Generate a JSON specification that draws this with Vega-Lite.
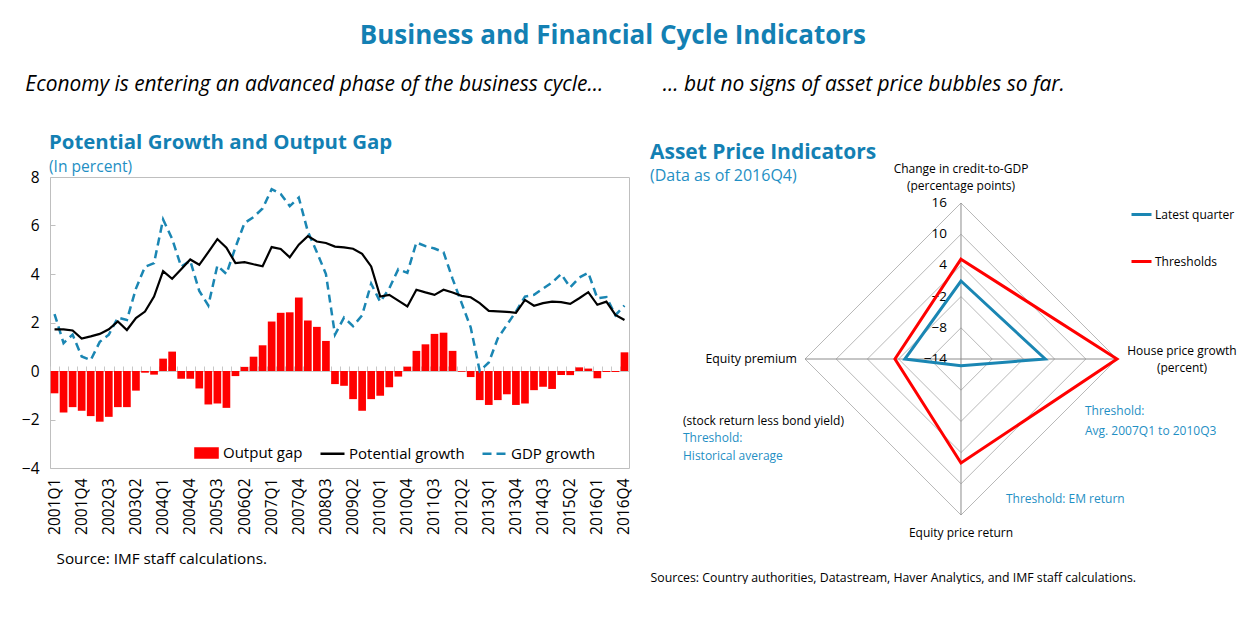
{
  "$schema": "https://vega.github.io/schema/vega-lite/v6.json",
  "background": "white",
  "padding": {"left": 20, "top": 22, "right": 0, "bottom": 0},
  "config": {
    "font": "Open Sans",
    "view": {"stroke": null},
    "axis": {"labelColor": "#000", "labelFont": "Open Sans", "titleFont": "Open Sans", "titleColor": "#000"},
    "legend": {"labelFont": "Open Sans", "labelColor": "#000"},
    "title": {"font": "Open Sans", "subtitleFont": "Open Sans"},
    "text": {"font": "Open Sans"}
  },
  "title": {
    "text": "Business and Financial Cycle Indicators",
    "subtitle": "Economy is entering an advanced phase of the business cycle...\u00a0\u00a0\u00a0\u00a0\u00a0\u00a0\u00a0\u00a0\u00a0\u00a0\u00a0... but no signs of asset price bubbles so far.\u00a0\u00a0\u00a0\u00a0\u00a0\u00a0\u00a0\u00a0\u00a0\u00a0\u00a0\u00a0\u00a0\u00a0\u00a0\u00a0\u00a0\u00a0\u00a0\u00a0\u00a0\u00a0\u00a0\u00a0\u00a0\u200b",
    "anchor": "middle",
    "dx": -20,
    "fontSize": 26,
    "fontWeight": "bold",
    "color": "#1380b3",
    "subtitleFontSize": 20.9,
    "subtitleFontStyle": "italic",
    "subtitleColor": "#000",
    "subtitlePadding": 25,
    "offset": 38
  },
  "datasets": {
    "trend": [
      {"q": "2001Q1", "gap": -0.92, "pot": 1.72, "gdp": 2.35},
      {"q": "2001Q2", "gap": -1.71, "pot": 1.72, "gdp": 1.15},
      {"q": "2001Q3", "gap": -1.49, "pot": 1.67, "gdp": 1.5},
      {"q": "2001Q4", "gap": -1.64, "pot": 1.34, "gdp": 0.6},
      {"q": "2002Q1", "gap": -1.86, "pot": 1.43, "gdp": 0.45},
      {"q": "2002Q2", "gap": -2.09, "pot": 1.53, "gdp": 1.2},
      {"q": "2002Q3", "gap": -1.89, "pot": 1.72, "gdp": 1.5},
      {"q": "2002Q4", "gap": -1.49, "pot": 2.04, "gdp": 2.2},
      {"q": "2003Q1", "gap": -1.49, "pot": 1.69, "gdp": 2.1},
      {"q": "2003Q2", "gap": -0.81, "pot": 2.18, "gdp": 3.4},
      {"q": "2003Q3", "gap": -0.07, "pot": 2.45, "gdp": 4.3},
      {"q": "2003Q4", "gap": -0.15, "pot": 3.07, "gdp": 4.45},
      {"q": "2004Q1", "gap": 0.51, "pot": 4.12, "gdp": 6.25},
      {"q": "2004Q2", "gap": 0.8, "pot": 3.8, "gdp": 5.45},
      {"q": "2004Q3", "gap": -0.32, "pot": 4.2, "gdp": 4.3},
      {"q": "2004Q4", "gap": -0.32, "pot": 4.6, "gdp": 4.55},
      {"q": "2005Q1", "gap": -0.72, "pot": 4.38, "gdp": 3.3},
      {"q": "2005Q2", "gap": -1.38, "pot": 4.9, "gdp": 2.7},
      {"q": "2005Q3", "gap": -1.34, "pot": 5.44, "gdp": 4.35},
      {"q": "2005Q4", "gap": -1.52, "pot": 5.08, "gdp": 4.0},
      {"q": "2006Q1", "gap": -0.21, "pot": 4.45, "gdp": 5.1},
      {"q": "2006Q2", "gap": 0.17, "pot": 4.49, "gdp": 6.1},
      {"q": "2006Q3", "gap": 0.59, "pot": 4.4, "gdp": 6.35},
      {"q": "2006Q4", "gap": 1.06, "pot": 4.32, "gdp": 6.7},
      {"q": "2007Q1", "gap": 2.04, "pot": 5.11, "gdp": 7.5},
      {"q": "2007Q2", "gap": 2.4, "pot": 5.03, "gdp": 7.3},
      {"q": "2007Q3", "gap": 2.42, "pot": 4.69, "gdp": 6.8},
      {"q": "2007Q4", "gap": 3.03, "pot": 5.21, "gdp": 7.15},
      {"q": "2008Q1", "gap": 2.08, "pot": 5.56, "gdp": 5.75},
      {"q": "2008Q2", "gap": 1.82, "pot": 5.34, "gdp": 4.9},
      {"q": "2008Q3", "gap": 1.24, "pot": 5.28, "gdp": 4.0},
      {"q": "2008Q4", "gap": -0.54, "pot": 5.13, "gdp": 1.5},
      {"q": "2009Q1", "gap": -0.61, "pot": 5.1, "gdp": 2.2},
      {"q": "2009Q2", "gap": -1.16, "pot": 5.04, "gdp": 1.85},
      {"q": "2009Q3", "gap": -1.64, "pot": 4.83, "gdp": 2.3},
      {"q": "2009Q4", "gap": -1.16, "pot": 4.31, "gdp": 3.6},
      {"q": "2010Q1", "gap": -1.02, "pot": 3.07, "gdp": 2.85},
      {"q": "2010Q2", "gap": -0.67, "pot": 3.14, "gdp": 3.4},
      {"q": "2010Q3", "gap": -0.23, "pot": 2.9, "gdp": 4.2},
      {"q": "2010Q4", "gap": 0.18, "pot": 2.66, "gdp": 4.05},
      {"q": "2011Q1", "gap": 0.83, "pot": 3.35, "gdp": 5.3},
      {"q": "2011Q2", "gap": 1.1, "pot": 3.24, "gdp": 5.15},
      {"q": "2011Q3", "gap": 1.53, "pot": 3.14, "gdp": 5.05},
      {"q": "2011Q4", "gap": 1.58, "pot": 3.35, "gdp": 4.9},
      {"q": "2012Q1", "gap": 0.83, "pot": 3.24, "gdp": 3.8},
      {"q": "2012Q2", "gap": -0.03, "pot": 3.1, "gdp": 2.8},
      {"q": "2012Q3", "gap": -0.25, "pot": 3.04, "gdp": 1.8},
      {"q": "2012Q4", "gap": -1.2, "pot": 2.8, "gdp": 0.0},
      {"q": "2013Q1", "gap": -1.4, "pot": 2.48, "gdp": 0.35},
      {"q": "2013Q2", "gap": -1.2, "pot": 2.46, "gdp": 1.35},
      {"q": "2013Q3", "gap": -0.96, "pot": 2.44, "gdp": 1.9},
      {"q": "2013Q4", "gap": -1.4, "pot": 2.4, "gdp": 2.45},
      {"q": "2014Q1", "gap": -1.34, "pot": 2.93, "gdp": 3.07},
      {"q": "2014Q2", "gap": -0.79, "pot": 2.69, "gdp": 3.14},
      {"q": "2014Q3", "gap": -0.65, "pot": 2.8, "gdp": 3.4},
      {"q": "2014Q4", "gap": -0.74, "pot": 2.86, "gdp": 3.65},
      {"q": "2015Q1", "gap": -0.17, "pot": 2.84, "gdp": 4.0},
      {"q": "2015Q2", "gap": -0.17, "pot": 2.77, "gdp": 3.45},
      {"q": "2015Q3", "gap": 0.15, "pot": 3.0, "gdp": 3.85},
      {"q": "2015Q4", "gap": 0.1, "pot": 3.25, "gdp": 4.05},
      {"q": "2016Q1", "gap": -0.3, "pot": 2.73, "gdp": 3.0},
      {"q": "2016Q2", "gap": -0.04, "pot": 2.86, "gdp": 3.05},
      {"q": "2016Q3", "gap": -0.04, "pot": 2.31, "gdp": 2.3},
      {"q": "2016Q4", "gap": 0.77, "pot": 2.1, "gdp": 2.7}
    ],
    "radar": [
      {"series": "Latest quarter", "k": 0, "value": 1.0},
      {"series": "Latest quarter", "k": 1, "value": 2.2},
      {"series": "Latest quarter", "k": 2, "value": -12.7},
      {"series": "Latest quarter", "k": 3, "value": -3.2},
      {"series": "Thresholds", "k": 0, "value": 5.2},
      {"series": "Thresholds", "k": 1, "value": 16.0},
      {"series": "Thresholds", "k": 2, "value": 6.0},
      {"series": "Thresholds", "k": 3, "value": -1.3}
    ],
    "rings": [
      {"level": -8, "k": 0}, {"level": -8, "k": 1}, {"level": -8, "k": 2}, {"level": -8, "k": 3},
      {"level": -2, "k": 0}, {"level": -2, "k": 1}, {"level": -2, "k": 2}, {"level": -2, "k": 3},
      {"level": 4, "k": 0}, {"level": 4, "k": 1}, {"level": 4, "k": 2}, {"level": 4, "k": 3},
      {"level": 10, "k": 0}, {"level": 10, "k": 1}, {"level": 10, "k": 2}, {"level": 10, "k": 3},
      {"level": 16, "k": 0}, {"level": 16, "k": 1}, {"level": 16, "k": 2}, {"level": 16, "k": 3}
    ],
    "ringLabels": [{"level": 16}, {"level": 10}, {"level": 4}, {"level": -2}, {"level": -8}, {"level": -14}],
    "spokes": [
      {"k": 0, "label": "Change in credit-to-GDP\n(percentage points)"},
      {"k": 1, "label": "House price growth\n(percent)"},
      {"k": 2, "label": "Equity price return"},
      {"k": 3, "label": "Equity premium"}
    ],
    "notes": [
      {"k": 3, "kind": "desc", "note": "(stock return less bond yield)"},
      {"k": 3, "kind": "threshold", "note": "Threshold:\nHistorical average"},
      {"k": 1, "kind": "threshold", "note": "Threshold:\nAvg. 2007Q1  to 2010Q3"},
      {"k": 2, "kind": "threshold", "note": "Threshold: EM return"}
    ]
  },
  "hconcat": [
    {
      "width": 579,
      "height": 291,
      "view": {"stroke": "#bfbfbf"},
      "title": {
        "text": "Potential Growth and Output Gap",
        "subtitle": "(In percent)",
        "anchor": "start",
        "frame": "group",
        "dx": -1,
        "offset": -6,
        "fontSize": 20.4,
        "fontWeight": "bold",
        "color": "#1380b3",
        "subtitleFontSize": 15.6,
        "subtitleColor": "#1f8fc4",
        "subtitlePadding": 7
      },
      "data": {"name": "trend"},
      "layer": [
        {
          "mark": {"type": "bar"},
          "encoding": {
            "x": {
              "field": "q", "type": "ordinal", "sort": null,
              "scale": {"paddingInner": 0.15, "paddingOuter": 0.075},
              "axis": {
                "values": ["2001Q1","2001Q4","2002Q3","2003Q2","2004Q1","2004Q4","2005Q3","2006Q2","2007Q1","2007Q4","2008Q3","2009Q2","2010Q1","2010Q4","2011Q3","2012Q2","2013Q1","2013Q4","2014Q3","2015Q2","2016Q1","2016Q4"],
                "labelAngle": -90, "labelFontSize": 15.5, "labelPadding": 10,
                "ticks": false, "domain": false, "grid": false,
                "title": "Source: IMF staff calculations.",
                "titleFontSize": 15.3, "titleFontWeight": "normal",
                "titleAnchor": "start", "titleAlign": "left", "titleX": 6,
                "titlePadding": 17, "titleBaseline": "top"
              }
            },
            "y": {
              "field": "gap", "type": "quantitative",
              "scale": {"domain": [-4, 8], "nice": false},
              "axis": {"values": [-4, -2, 0, 2, 4, 6, 8], "title": null, "grid": false, "domain": false, "tickSize": -5, "tickColor": "#bfbfbf", "labelPadding": 16, "labelFontSize": 15.5}
            },
            "color": {
              "datum": "Output gap",
              "scale": {"domain": ["Output gap", "Potential growth", "GDP growth"], "range": ["#ff0000", "#000000", "#1a86b3"]},
              "legend": {
                "orient": "none", "legendX": 143, "legendY": 262,
                "direction": "horizontal", "title": null,
                "labelFontSize": 15, "symbolType": "stroke", "symbolSize": 576,
                "symbolStrokeWidth": 2.5, "columnPadding": 12, "labelOffset": 3,
                "encode": {
                  "symbols": {
                    "update": {
                      "shape": {"signal": "datum.value === 'Output gap' ? 'M-0.92,-0.38H0.92V0.38H-0.92Z' : 'stroke'"},
                      "fill": {"signal": "datum.value === 'Output gap' ? '#ff0000' : 'transparent'"},
                      "stroke": {"signal": "datum.value === 'Output gap' ? 'transparent' : (datum.value === 'Potential growth' ? '#000000' : '#1a86b3')"},
                      "strokeDash": {"signal": "datum.value === 'GDP growth' ? [9, 5] : [1, 0]"},
                      "strokeWidth": {"value": 2.5},
                      "opacity": {"value": 1}
                    }
                  }
                }
              }
            }
          }
        },
        {
          "mark": {"type": "line", "strokeDash": [8, 5], "strokeWidth": 2.5},
          "encoding": {
            "x": {
              "field": "q", "type": "ordinal", "sort": null,
              "axis": {"orient": "top", "offset": -194, "labels": false, "title": null, "grid": false, "tickSize": 5, "tickColor": "#c8c8c8", "domainColor": "#c8c8c8", "bandPosition": 0}
            },
            "y": {"field": "gdp", "type": "quantitative"},
            "color": {"datum": "GDP growth"}
          }
        },
        {
          "mark": {"type": "line", "strokeWidth": 2.2},
          "encoding": {
            "x": {"field": "q", "type": "ordinal", "sort": null, "axis": null},
            "y": {"field": "pot", "type": "quantitative"},
            "color": {"datum": "Potential growth"}
          }
        }
      ],
      "resolve": {"axis": {"x": "independent"}}
    },
    {
      "width": 595,
      "height": 391,
      "title": {
        "text": "Asset Price Indicators",
        "subtitle": "(Data as of 2016Q4)",
        "anchor": "start",
        "frame": "group",
        "offset": -20.5,
        "fontSize": 21,
        "fontWeight": "bold",
        "color": "#1380b3",
        "subtitleFontSize": 16,
        "subtitleColor": "#1f8fc4",
        "subtitlePadding": 5
      },
      "encoding": {
        "x": {
          "field": "px", "type": "quantitative",
          "scale": {"domain": [-59.81, 54.62], "nice": false, "zero": false},
          "axis": {"title": "Sources: Country authorities, Datastream, Haver Analytics, and IMF staff calculations.", "labels": false, "ticks": false, "domain": false, "grid": false, "titleAnchor": "start", "titleAlign": "left", "titleFontSize": 12.3, "titleFontWeight": "normal", "titlePadding": 3, "titleBaseline": "top"}
        },
        "y": {
          "field": "py", "type": "quantitative",
          "scale": {"domain": [-40.19, 35], "nice": false, "zero": false},
          "axis": null
        }
      },
      "layer": [
        {
          "data": {"name": "rings"},
          "transform": [
            {"calculate": "(datum.level + 14) * sin(datum.k * PI / 2)", "as": "px"},
            {"calculate": "(datum.level + 14) * cos(datum.k * PI / 2)", "as": "py"}
          ],
          "mark": {"type": "line", "interpolate": "linear-closed", "stroke": "#b8b8b8", "strokeWidth": 1},
          "encoding": {"detail": {"field": "level", "type": "nominal"}, "order": {"field": "k", "type": "quantitative"}}
        },
        {
          "data": {"name": "spokes"},
          "transform": [
            {"calculate": "30 * sin(datum.k * PI / 2)", "as": "px"},
            {"calculate": "30 * cos(datum.k * PI / 2)", "as": "py"}
          ],
          "mark": {"type": "rule", "stroke": "#8c8c8c", "strokeWidth": 1},
          "encoding": {"x2": {"datum": 0}, "y2": {"datum": 0}}
        },
        {
          "data": {"name": "ringLabels"},
          "transform": [
            {"calculate": "0", "as": "px"},
            {"calculate": "datum.level + 14", "as": "py"}
          ],
          "mark": {"type": "text", "align": "right", "baseline": "middle", "dx": -14, "fontSize": 13.5, "color": "#000"},
          "encoding": {"text": {"field": "level", "type": "quantitative"}}
        },
        {
          "data": {"name": "radar"},
          "transform": [
            {"calculate": "(datum.value + 14) * sin(datum.k * PI / 2)", "as": "px"},
            {"calculate": "(datum.value + 14) * cos(datum.k * PI / 2)", "as": "py"}
          ],
          "mark": {"type": "line", "interpolate": "linear-closed", "strokeWidth": 3},
          "encoding": {
            "color": {
              "field": "series", "type": "nominal",
              "scale": {"domain": ["Latest quarter", "Thresholds"], "range": ["#1a86b3", "#ff0000"]},
              "legend": {"orient": "none", "legendX": 480, "legendY": 26, "title": null, "symbolType": "stroke", "symbolSize": 400, "symbolStrokeWidth": 3, "labelFontSize": 12, "rowPadding": 29, "labelOffset": 2}
            },
            "order": {"field": "k", "type": "quantitative"}
          }
        },
        {
          "data": {"name": "spokes"},
          "transform": [
            {"filter": "datum.k == 0"},
            {"calculate": "30 * sin(datum.k * PI / 2)", "as": "px"},
            {"calculate": "30 * cos(datum.k * PI / 2)", "as": "py"}
          ],
          "mark": {"type": "text", "align": "center", "baseline": "bottom", "dy": -27, "lineBreak": "\n", "lineHeight": 17, "fontSize": 12, "color": "#000"},
          "encoding": {"text": {"field": "label"}}
        },
        {
          "data": {"name": "spokes"},
          "transform": [
            {"filter": "datum.k == 1"},
            {"calculate": "30 * sin(datum.k * PI / 2)", "as": "px"},
            {"calculate": "30 * cos(datum.k * PI / 2)", "as": "py"}
          ],
          "mark": {"type": "text", "align": "center", "baseline": "middle", "dx": 65, "dy": -8, "lineBreak": "\n", "lineHeight": 17, "fontSize": 12, "color": "#000"},
          "encoding": {"text": {"field": "label"}}
        },
        {
          "data": {"name": "spokes"},
          "transform": [
            {"filter": "datum.k == 2"},
            {"calculate": "30 * sin(datum.k * PI / 2)", "as": "px"},
            {"calculate": "30 * cos(datum.k * PI / 2)", "as": "py"}
          ],
          "mark": {"type": "text", "align": "center", "baseline": "middle", "dy": 18, "fontSize": 12, "color": "#000"},
          "encoding": {"text": {"field": "label"}}
        },
        {
          "data": {"name": "spokes"},
          "transform": [
            {"filter": "datum.k == 3"},
            {"calculate": "30 * sin(datum.k * PI / 2)", "as": "px"},
            {"calculate": "30 * cos(datum.k * PI / 2)", "as": "py"}
          ],
          "mark": {"type": "text", "align": "right", "baseline": "middle", "dx": -8, "fontSize": 12.3, "color": "#000"},
          "encoding": {"text": {"field": "label"}}
        },
        {
          "data": {"name": "notes"},
          "transform": [
            {"filter": "datum.k == 3 && datum.kind == 'desc'"},
            {"calculate": "30 * sin(datum.k * PI / 2)", "as": "px"},
            {"calculate": "30 * cos(datum.k * PI / 2)", "as": "py"}
          ],
          "mark": {"type": "text", "align": "left", "baseline": "middle", "dx": -122, "dy": 62, "fontSize": 12, "color": "#000"},
          "encoding": {"text": {"field": "note"}}
        },
        {
          "data": {"name": "notes"},
          "transform": [
            {"filter": "datum.k == 3 && datum.kind == 'threshold'"},
            {"calculate": "30 * sin(datum.k * PI / 2)", "as": "px"},
            {"calculate": "30 * cos(datum.k * PI / 2)", "as": "py"}
          ],
          "mark": {"type": "text", "align": "left", "baseline": "top", "dx": -122, "dy": 74, "lineBreak": "\n", "lineHeight": 18, "fontSize": 12, "color": "#1f8fc4"},
          "encoding": {"text": {"field": "note"}}
        },
        {
          "data": {"name": "notes"},
          "transform": [
            {"filter": "datum.k == 1"},
            {"calculate": "30 * sin(datum.k * PI / 2)", "as": "px"},
            {"calculate": "30 * cos(datum.k * PI / 2)", "as": "py"}
          ],
          "mark": {"type": "text", "align": "left", "baseline": "top", "dx": -32, "dy": 47, "lineBreak": "\n", "lineHeight": 20, "fontSize": 12, "color": "#1f8fc4"},
          "encoding": {"text": {"field": "note"}}
        },
        {
          "data": {"name": "notes"},
          "transform": [
            {"filter": "datum.k == 2"},
            {"calculate": "30 * sin(datum.k * PI / 2)", "as": "px"},
            {"calculate": "30 * cos(datum.k * PI / 2)", "as": "py"}
          ],
          "mark": {"type": "text", "align": "left", "baseline": "middle", "dx": 45, "dy": -16, "fontSize": 12, "color": "#1f8fc4"},
          "encoding": {"text": {"field": "note"}}
        }
      ]
    }
  ],
  "spacing": 21,
  "bounds": "flush",
  "resolve": {"scale": {"color": "independent"}, "legend": {"color": "independent"}}
}
